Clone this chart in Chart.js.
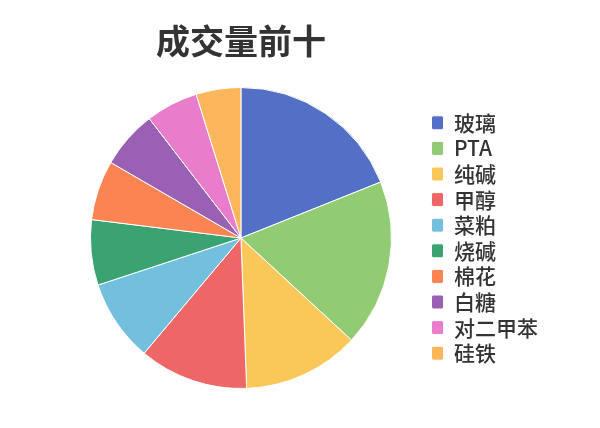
<!DOCTYPE html>
<html>
<head>
<meta charset="utf-8">
<script src="https://cdn.jsdelivr.net/npm/chart.js@4"></script>
<style>
  html, body { margin: 0; padding: 0; background: #fff; }
  #wrap { width: 600px; height: 428px; }
</style>
</head>
<body>
<div id="wrap"><canvas id="pie" width="600" height="428"></canvas></div>
<script>
// Top-10 by trading volume (share)
const categories = ['玻璃', 'PTA', '纯碱', '甲醇', '菜粕', '烧碱', '棉花', '白糖', '对二甲苯', '硅铁'];
const volumes = [189, 179, 125, 117, 88, 70, 64, 62, 56, 48];
const colors = ['#5470c6', '#91cc75', '#fac858', '#ee6666', '#73c0de',
  '#3ba272', '#fc8452', '#9a60b4', '#ea7ccc', '#fcb65c'];

const FONT = '"Noto Sans CJK SC", "Noto Sans", sans-serif';

new Chart(document.getElementById('pie'), {
  type: 'pie',
  data: {
    labels: categories,
    datasets: [{ data: volumes, backgroundColor: colors, borderColor: '#fff', borderWidth: 1 }],
  },
  options: {
    responsive: false,
    animation: false,
    layout: { padding: { left: 55, right: 52, top: 0, bottom: 39 } },
    plugins: {
      title: {
        display: true, text: '成交量前十', fullSize: false, color: '#333',
        font: { family: FONT, size: 34, weight: 'bold' },
        padding: { top: 20.6, bottom: 25.6 },
      },
      legend: {
        position: 'right', fullSize: false,
        labels: {
          color: '#333', font: { family: FONT, size: 21, weight: '500' },
          boxWidth: 12, boxHeight: 14, padding: 4.6,
          useBorderRadius: true, borderRadius: 2,
        },
      },
      tooltip: { enabled: false },
    },
  },
});
</script>
</body>
</html>
